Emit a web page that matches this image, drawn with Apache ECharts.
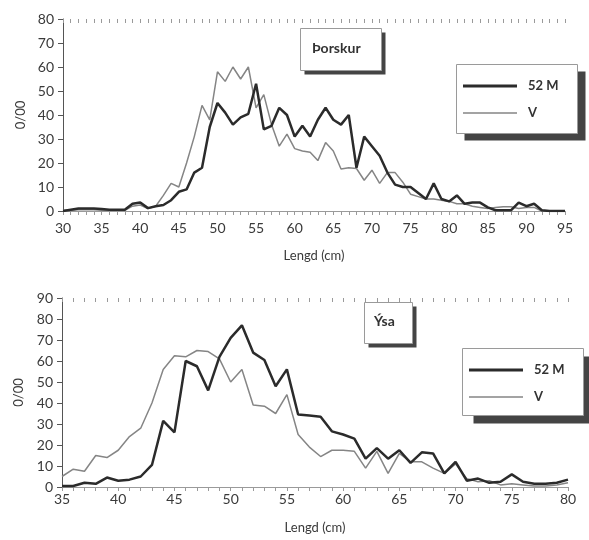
<!DOCTYPE html>
<html><head><meta charset="utf-8">
<script src="https://cdn.jsdelivr.net/npm/echarts@6/dist/echarts.min.js"></script>
<style>html,body{margin:0;padding:0;background:#fff}#c{width:589px;height:540px}</style>
</head><body><div id="c"></div>
<script>
// Top chart: Þorskur (cod)
const codLengths = [30,31,32,33,34,35,36,37,38,39,40,41,42,43,44,45,46,47,48,49,50,51,52,53,54,55,56,57,58,59,60,61,62,63,64,65,66,67,68,69,70,71,72,73,74,75,76,77,78,79,80,81,82,83,84,85,86,87,88,89,90,91,92,93,94,95];
const cod52M = [0,0.5,1,1,1,0.8,0.5,0.5,0.5,3,3.5,1.2,2,2.5,4.5,8,9,16,18,35,45,41,36,39,40.5,53,34,35.5,43,40,31,35.5,31,38,43,38,36,40,18,31,27,23,16,11,10,10,7.5,5,11.5,5,4,6.5,3,3.5,3.5,1.5,0.3,0.3,0.3,3.5,2,3,0.3,0,0,0];
const codV = [0.3,0.3,0.5,0.5,0.5,0.3,0.3,0.3,0.3,2,2.5,1,2,6.5,11.5,10,20,31,44,38,58,54,60,55,60,43,48.5,36,27,32,26,25,24.5,21,28.5,25,17.5,18,17.7,12.8,17,11.5,16,16,12,7,6,5,5,4.5,4,3,3,2,1.5,1,1.5,1.8,1.8,1,1.5,1.5,0,0,0,0];
// Bottom chart: Ýsa (haddock)
const haddockLengths = [35,36,37,38,39,40,41,42,43,44,45,46,47,48,49,50,51,52,53,54,55,56,57,58,59,60,61,62,63,64,65,66,67,68,69,70,71,72,73,74,75,76,77,78,79,80];
const haddock52M = [0.5,0.5,2,1.5,4.5,3,3.5,5,10.5,31.5,26,60,57.5,46,62,71,77,64,60.5,48,56,34.5,34,33.5,26.5,25,23,13.5,18.5,13.5,17.5,11.5,16.5,16,6.5,12,3,4,2,2.5,6,2.5,1.5,1.5,2,3.5];
const haddockV = [5,8.5,7.5,15,14,17.5,24,28,40,56,62.5,62,65,64.5,61,50,56,39,38.5,35,44,25,19,14.5,17.5,17.5,17,9,17,6.5,16,12,12,9,6.5,11,4,2.5,3,1,1.5,1,0.5,0.5,1,2];
const seriesNames = ['52 M', 'V'];
const titles = ['Þorskur', 'Ýsa'];
const xName = 'Lengd (cm)';
const yName = '0/00';

const FONT = 'Lato, "Open Sans", sans-serif';
const DARK = '#2b2b2b', GREY = '#858585';
const pairs = (xs, ys) => xs.map((x, i) => [x, ys[i]]);

function xAxes(grid, min, max, margin, nameGap) {
  const common = {gridIndex: grid, type: 'value', min: min, max: max, interval: 5, splitLine: {show: false}};
  return [
    Object.assign({}, common, {
      axisLine: {lineStyle: {color: '#9a9a9a', width: 1}},
      axisTick: {show: true, length: 4, lineStyle: {color: '#9a9a9a'}},
      minorTick: {show: true, splitNumber: 5, length: 4, lineStyle: {color: '#9a9a9a'}},
      axisLabel: {margin: margin, fontSize: 14, color: '#3a3a3a', fontFamily: FONT},
      name: xName, nameLocation: 'middle', nameGap: nameGap,
      nameTextStyle: {fontSize: 13, color: '#3a3a3a', fontFamily: FONT}
    }),
    Object.assign({}, common, {
      axisLine: {show: false},
      axisTick: {show: true, inside: true, length: 4, lineStyle: {color: '#9a9a9a'}},
      minorTick: {show: true, splitNumber: 5, length: 4, lineStyle: {color: '#9a9a9a'}},
      axisLabel: {show: false}
    })
  ];
}
function yAxis(grid, max, nameGap) {
  return {
    gridIndex: grid, type: 'value', min: 0, max: max, interval: 10,
    splitLine: {show: false},
    axisLine: {show: true, lineStyle: {color: '#555', width: 1}},
    axisTick: {show: true, length: 5, lineStyle: {color: '#555'}},
    axisLabel: {margin: 9, fontSize: 14, color: '#3a3a3a', fontFamily: FONT},
    name: yName, nameLocation: 'middle', nameGap: nameGap,
    nameTextStyle: {fontSize: 13, color: '#3a3a3a', fontFamily: FONT}
  };
}
// legend icons: a thin horizontal bar centred in a 54x14 box (tiny corner dots fix the bounding box)
const iconThick = 'path://M0,0h0.05v0.05h-0.05z M0,14h0.05v-0.05h-0.05z M0,5.6h54v2.8h-54z';
const iconThin = 'path://M0,0h0.05v0.05h-0.05z M0,14h0.05v-0.05h-0.05z M0,6.25h54v1.5h-54z';
function legend(left, top) {
  return {
    orient: 'vertical', left: left, top: top,
    data: [{name: seriesNames[0], icon: iconThick}, {name: seriesNames[1], icon: iconThin}],
    itemWidth: 54, itemHeight: 14, itemGap: 13,
    padding: [15, 10, 13, 7],
    selectedMode: false, z: 10,
    textStyle: {fontSize: 13, fontWeight: 'bold', color: '#333', fontFamily: FONT, padding: [0, 0, 0, 6]}
  };
}
function title(text, left, top, pad) {
  return {
    text: text, left: left, top: top, padding: pad, z: 10,
    textStyle: {fontSize: 14, fontWeight: 'bold', color: '#333', fontFamily: FONT}
  };
}
function box(x, y, w, h, dx, dy) {
  return [
    {type: 'rect', z: 8, shape: {x: x + dx, y: y + dy, width: w, height: h}, style: {fill: '#444'}},
    {type: 'rect', z: 9, shape: {x: x, y: y, width: w, height: h}, style: {fill: '#fff', stroke: '#9a9a9a', lineWidth: 1}}
  ];
}
function line(name, data, xi, yi, dark) {
  return {
    name: name, type: 'line', xAxisIndex: xi, yAxisIndex: yi, data: data,
    symbol: 'none', animation: false, z: dark ? 3 : 2,
    lineStyle: dark ? {color: DARK, width: 2.5} : {color: GREY, width: 1.5},
    itemStyle: {color: dark ? DARK : GREY}
  };
}

const chart = echarts.init(document.getElementById('c'));
chart.setOption({
  animation: false,
  backgroundColor: '#fff',
  graphic: [].concat(
    box(300.5, 28.5, 81, 42, 4, 4),
    box(364.5, 302.5, 48, 41, 4, 4),
    box(456.5, 64.5, 121, 69, 8, 7),
    box(462.5, 348.5, 121, 67, 11, 8)
  ),
  title: [title(titles[0], 300, 28, [13, 12]), title(titles[1], 364, 302, [12, 10])],
  legend: [legend(456, 64), legend(462, 348)],
  grid: [
    {left: 63, width: 502, top: 19, height: 192},
    {left: 62, width: 506, top: 298, height: 189}
  ],
  xAxis: xAxes(0, 30, 95, 10, 38).concat(xAxes(1, 35, 80, 5, 34)),
  yAxis: [yAxis(0, 80, 34), yAxis(1, 90, 37)],
  series: [
    line(seriesNames[1], pairs(codLengths, codV), 0, 0, false),
    line(seriesNames[0], pairs(codLengths, cod52M), 0, 0, true),
    line(seriesNames[1], pairs(haddockLengths, haddockV), 2, 1, false),
    line(seriesNames[0], pairs(haddockLengths, haddock52M), 2, 1, true)
  ]
});
</script>
</body></html>
